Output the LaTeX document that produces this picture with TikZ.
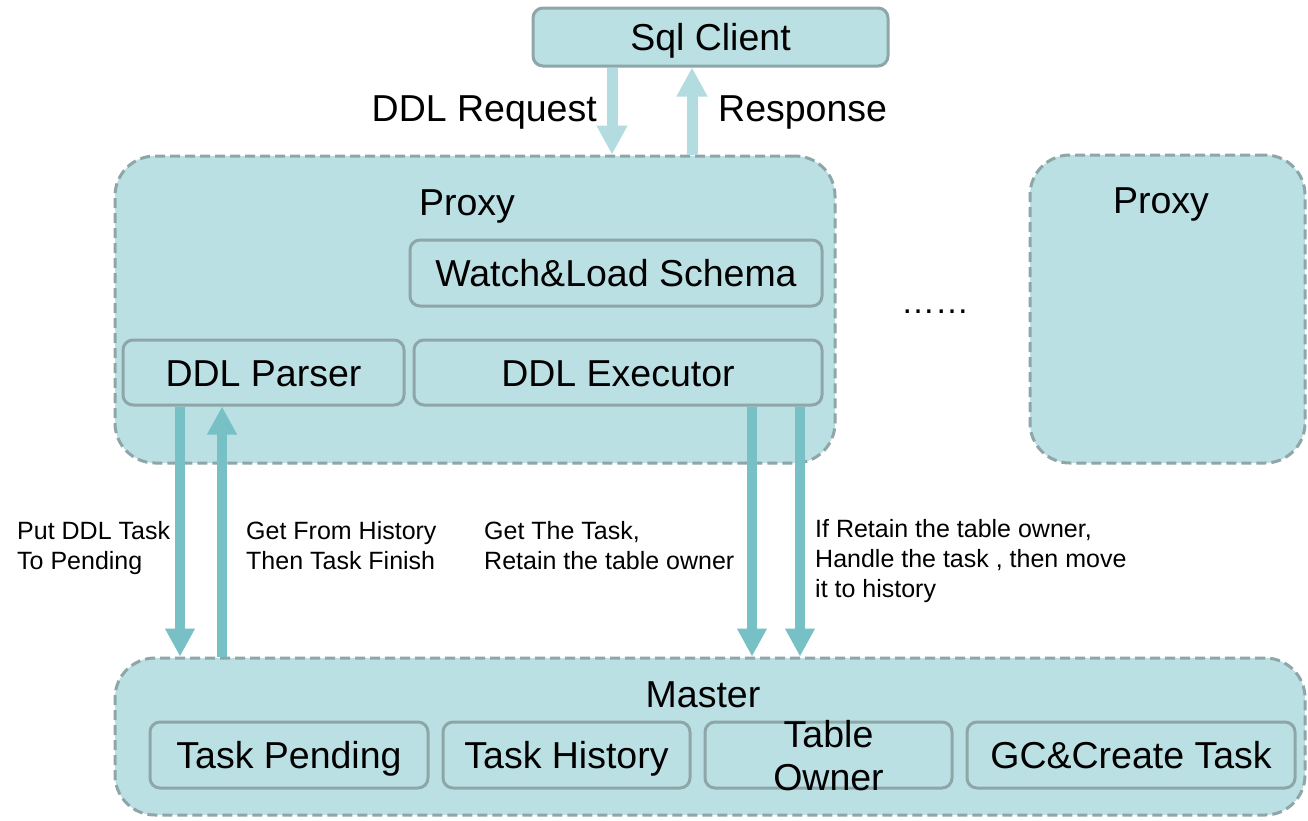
\documentclass[tikz,border=0pt]{standalone}
\usepackage{fontspec}
\setmainfont{Liberation Sans}
\usetikzlibrary{arrows.meta}
\definecolor{boxfill}{HTML}{BAE0E4}
\definecolor{boxline}{HTML}{8EA6A8}
\definecolor{arrdark}{HTML}{76C0C6}
\definecolor{arrlight}{HTML}{B2DCE0}
\begin{document}
\begin{tikzpicture}[x=1pt,y=-1pt,
  outerbox/.style={draw=boxline, fill=boxfill, line width=3pt, dash pattern=on 10pt off 5pt, rounded corners=40pt, inner sep=0pt},
  innerbox/.style={draw=boxline, fill=boxfill, line width=3pt, rounded corners=10pt, inner sep=0pt, font=\fontsize{37.5}{44}\selectfont, text height=27pt, text depth=0pt},
  bigtext/.style={inner sep=0pt, font=\fontsize{37.5}{44}\selectfont, text height=27pt, text depth=0pt},
  ownerstyle/.style={inner sep=0pt, align=center, font=\fontsize{37.5}{43}\selectfont},
  smalltext/.style={inner sep=0pt, align=left, anchor=north west, font=\fontsize{25}{30}\selectfont},
  darkarrow/.style={draw=arrdark, line width=10pt, -{Triangle[length=28pt,width=28pt]}},
  lightarrow/.style={draw=arrlight, line width=11pt, -{Triangle[length=29pt,width=29pt]}}]
\fill[white] (0,0) rectangle (1308,820);
\useasboundingbox (0,0) rectangle (1308,820);
% outer boxes
\node[outerbox, minimum width=720pt, minimum height=307pt] (proxy) at (475,309.5) {};
\node[outerbox, minimum width=275pt, minimum height=308pt] (proxy2) at (1167.5,309) {};
\node[outerbox, minimum width=1190pt, minimum height=157pt] (master) at (710,736.5) {};
% inner boxes
\node[innerbox, minimum width=355pt, minimum height=58pt] (sql) at (710.5,37) {Sql Client};
\node[innerbox, minimum width=412pt, minimum height=66pt] (watch) at (616,273) {Watch\&Load Schema};
\node[innerbox, minimum width=281pt, minimum height=65pt] (parser) at (263.5,372.5) {DDL Parser};
\node[innerbox, minimum width=408pt, minimum height=65pt] (exec) at (618,372.5) {DDL Executor};
\node[innerbox, minimum width=278pt, minimum height=66pt] (pending) at (289,755) {Task Pending};
\node[innerbox, minimum width=247pt, minimum height=66pt] (history) at (566.5,755) {Task History};
\node[innerbox, minimum width=247pt, minimum height=66pt] (owner) at (828.5,755) {};
\node[innerbox, minimum width=328pt, minimum height=66pt] (gc) at (1131,755) {GC\&Create Task};
\node[ownerstyle] (ownertext) at (828.5,756) {Table\\Owner};
% titles
\node[bigtext] (proxytitle) at (467,202) {Proxy};
\node[bigtext] (proxy2title) at (1161,200) {Proxy};
\node[bigtext] (mastertitle) at (703,694) {Master};
\node[inner sep=0pt, anchor=base, font=\fontsize{34}{40}\selectfont] (dots) at (935,313) {……};
% top arrows
\coordinate (xe) at (612,0);
\coordinate (xf) at (692,0);
\draw[lightarrow] (sql.south -| xe) -- (proxy.north -| xe);
\draw[lightarrow] (proxy.north -| xf) -- (sql.south -| xf);
\node[bigtext, anchor=east] (req) at (597,108) {DDL Request};
\node[bigtext, anchor=west] (resp) at (718,108) {Response};
% middle arrows
\coordinate (xa) at (180,0);
\coordinate (xb) at (222,0);
\coordinate (xc) at (752,0);
\coordinate (xd) at (800,0);
\draw[darkarrow] (parser.south -| xa) -- (master.north -| xa);
\draw[darkarrow] (master.north -| xb) -- (parser.south -| xb);
\draw[darkarrow] (exec.south -| xc) -- (master.north -| xc);
\draw[darkarrow] (exec.south -| xd) -- (master.north -| xd);
% labels
\node[smalltext] (l1) at (17,521) {Put DDL Task\\To Pending};
\node[smalltext] (l2) at (246,521) {Get From History\\Then Task Finish};
\node[smalltext] (l3) at (484,521) {Get The Task,\\Retain the table owner};
\node[smalltext] (l4) at (815,519) {If Retain the table owner,\\Handle the task , then move\\it to history};
\end{tikzpicture}
\end{document}
